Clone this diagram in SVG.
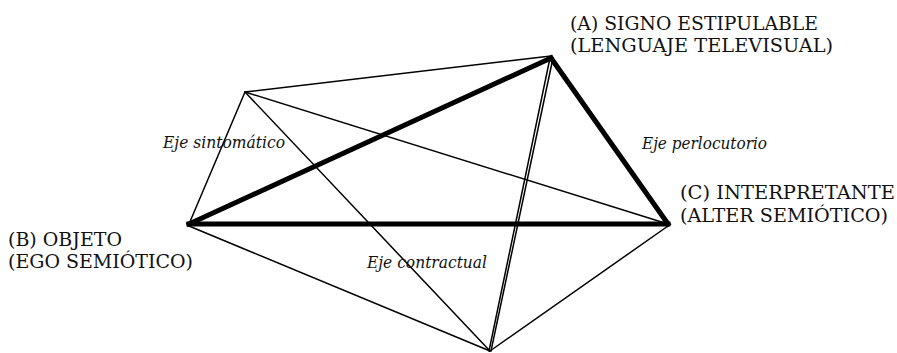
<svg xmlns="http://www.w3.org/2000/svg" width="897" height="353" viewBox="0 0 897 353">
<style>
.thin{stroke:#000;stroke-width:1.5;fill:none;stroke-linecap:round}
.thick{stroke:#000;stroke-width:5;fill:none;stroke-linecap:square}
.lbl{font-family:'DejaVu Serif','Liberation Serif',serif;font-size:19px;fill:#111}
.ax{font-family:'DejaVu Serif','Liberation Serif',serif;font-size:16px;font-style:italic;fill:#111}
</style>
<rect width="897" height="353" fill="#fff"/>
<g id="connectors">
<line class="thin" x1="245" y1="92" x2="551" y2="56"/>
<line class="thin" x1="245" y1="92" x2="189" y2="224"/>
<line class="thin" x1="245" y1="92" x2="668" y2="224"/>
<line class="thin" x1="245" y1="92" x2="490" y2="351"/>
<line class="thin" x1="189" y1="226" x2="490" y2="351"/>
<line class="thin" x1="668" y1="226" x2="490" y2="351"/>
<line class="thin" x1="550" y1="58" x2="489" y2="351"/>
<line class="thin" x1="553" y1="58" x2="491" y2="351"/>
<line class="thick" x1="189" y1="224" x2="551" y2="58"/>
<line class="thick" x1="551" y1="58" x2="668" y2="224"/>
<line class="thick" x1="189" y1="224" x2="668" y2="224"/>
</g>
<g id="nodeA"><text class="lbl" x="570" y="30" textLength="248" lengthAdjust="spacingAndGlyphs">(A) SIGNO ESTIPULABLE</text><text class="lbl" x="570" y="52" textLength="263" lengthAdjust="spacingAndGlyphs">(LENGUAJE TELEVISUAL)</text></g>
<g id="nodeB"><text class="lbl" x="8" y="246" textLength="114" lengthAdjust="spacingAndGlyphs">(B) OBJETO</text><text class="lbl" x="8" y="268" textLength="185" lengthAdjust="spacingAndGlyphs">(EGO SEMIÓTICO)</text></g>
<g id="nodeC"><text class="lbl" x="680" y="199" textLength="215" lengthAdjust="spacingAndGlyphs">(C) INTERPRETANTE</text><text class="lbl" x="680" y="222" textLength="208" lengthAdjust="spacingAndGlyphs">(ALTER SEMIÓTICO)</text></g>
<g id="axis-sintomatico"><text class="ax" x="163" y="148" textLength="122" lengthAdjust="spacingAndGlyphs">Eje sintomático</text></g>
<g id="axis-perlocutorio"><text class="ax" x="642" y="149" textLength="125" lengthAdjust="spacingAndGlyphs">Eje perlocutorio</text></g>
<g id="axis-contractual"><text class="ax" x="367" y="268" textLength="120" lengthAdjust="spacingAndGlyphs">Eje contractual</text></g>
</svg>
